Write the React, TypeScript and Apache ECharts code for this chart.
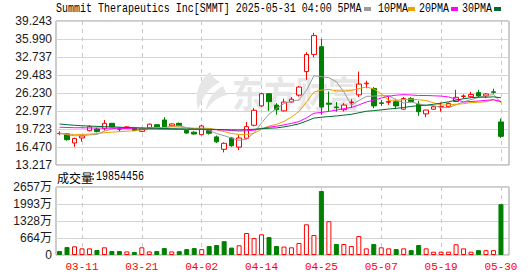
import React, { useEffect, useRef } from "react";
import * as echarts from "echarts";

const dates = [
  "03-06","03-07","03-10","03-11","03-12","03-13","03-14","03-17","03-18","03-19",
  "03-20","03-21","03-24","03-25","03-26","03-27","03-28","03-31","04-01","04-02",
  "04-03","04-04","04-07","04-08","04-09","04-10","04-11","04-14","04-15","04-16",
  "04-17","04-21","04-22","04-23","04-24","04-25","04-28","04-29","04-30","05-01",
  "05-02","05-05","05-06","05-07","05-08","05-09","05-12","05-13","05-14","05-15",
  "05-16","05-19","05-20","05-21","05-22","05-23","05-27","05-28","05-29","05-30",
];
const opens = [
  18.9,18.85,17.2,18.1,19.42,19.72,19.8,20.75,19.75,19.95,
  19.85,19.3,19.95,20.5,21.35,20.3,20.75,19.45,19.15,18.7,
  19.45,18.3,16.06,18.1,16.45,18.05,20.4,23.9,26.1,24.05,
  23.0,24.6,25.85,30.1,33.2,34.6,24.4,23.7,23.2,24.5,
  25.9,27.9,27.05,24.45,24.55,24.65,23.3,25.25,24.2,22.45,
  23.3,23.7,23.75,24.7,25.6,25.55,26.3,25.7,26.45,21.0,
];
const closes = [
  18.95,17.8,18.0,18.46,20.14,19.25,20.75,20.1,19.7,20.1,
  19.45,19.85,20.6,20.1,19.85,20.63,20.33,19.0,18.82,20.27,
  18.95,17.4,17.14,16.7,18.1,20.15,23.1,26.1,24.65,23.2,
  24.6,25.1,27.3,33.2,36.6,23.7,24.2,23.6,24.05,24.6,
  27.85,28.0,23.9,24.35,24.7,23.9,25.25,24.7,22.85,23.15,
  23.75,23.8,24.35,25.45,25.7,25.95,25.7,26.05,26.35,18.4,
];
const lows = [
  18.6,17.6,16.5,17.43,19.3,19.1,19.45,20.05,19.25,19.85,
  19.35,19.2,19.9,20.0,19.8,20.2,20.2,18.85,18.7,18.6,
  18.7,17.2,15.5,16.5,15.9,17.9,20.2,23.7,23.0,22.3,
  22.9,24.5,25.6,28.6,32.7,22.3,22.9,22.85,22.9,23.5,
  25.5,27.1,23.5,23.9,24.1,23.3,23.2,24.5,22.1,21.85,
  23.2,22.85,23.6,24.6,25.2,25.4,25.5,25.3,26.1,18.1,
];
const highs = [
  19.3,19.0,18.15,18.5,20.4,19.95,21.35,20.8,20.1,20.25,
  20.0,20.0,20.7,20.6,21.85,20.75,20.9,19.6,19.3,20.5,
  19.6,18.55,17.3,18.3,18.6,21.0,23.5,26.3,26.2,24.4,
  25.2,25.5,27.5,33.6,37.1,36.0,26.5,24.6,24.4,25.1,
  30.1,28.45,27.3,24.95,25.6,25.2,25.5,25.5,24.8,23.2,
  24.0,24.5,24.5,26.8,26.0,26.4,26.8,26.2,27.0,21.6,
];
const volumes = [
  1550000,3100000,3400000,2600000,2600000,1950000,3000000,1550000,1550000,1400000,
  1200000,3000000,1400000,1550000,2700000,1400000,1500000,2300000,2700000,2300000,
  3500000,3900000,5400000,2900000,3800000,8600000,6600000,8100000,7000000,3500000,
  3300000,3000000,4700000,12000000,7800000,25000000,13200000,4300000,4300000,3500000,
  7400000,2600000,4300000,3000000,2600000,2300000,2600000,1900000,3900000,2600000,
  1300000,1300000,1300000,4200000,2600000,1300000,1900000,1900000,1900000,19854456,
];
const ma5 = [
  18.9,18.7,18.5,18.5,18.67,18.73,19.32,19.74,19.99,19.98,
  20.02,19.84,19.94,20.02,19.97,20.21,20.3,19.98,19.73,19.81,
  19.47,18.89,18.52,18.09,17.66,17.9,19.04,20.83,22.42,23.44,
  24.33,24.73,24.97,26.68,29.36,29.18,29.0,28.26,26.43,24.03,
  24.86,25.62,25.68,25.74,25.76,24.97,24.42,24.58,24.28,23.97,
  23.94,23.65,23.58,24.1,24.61,25.05,25.43,25.77,25.95,24.49,
];
const ma10 = [
  18.95,18.8,18.75,18.75,18.8,18.9,19.05,19.15,19.25,19.33,
  19.38,19.58,19.84,20.0,19.98,20.11,20.07,19.96,19.87,19.89,
  19.84,19.6,19.25,18.91,18.73,18.69,18.96,19.67,20.26,20.55,
  21.11,21.88,22.9,24.55,26.4,26.76,26.87,26.62,26.56,26.7,
  27.02,27.31,26.97,26.09,24.9,24.92,25.02,25.13,25.01,24.87,
  24.46,24.04,24.08,24.19,24.29,24.5,24.54,24.68,25.03,24.55,
];
const ma20 = [
  20.05,20.0,19.95,19.95,19.9,19.9,19.88,19.85,19.85,19.8,
  19.78,19.6,19.72,19.7,19.68,19.66,19.65,19.63,19.62,19.61,
  19.61,19.59,19.54,19.46,19.35,19.4,19.52,19.82,20.06,20.22,
  20.48,20.74,21.07,21.73,22.57,22.72,22.91,23.14,23.41,23.62,
  24.07,24.6,24.94,25.32,25.65,25.84,25.94,25.87,25.78,25.78,
  25.73,25.67,25.52,25.13,24.59,24.7,24.78,24.9,25.01,24.7,
];
const ma30 = [
  20.63,20.5,20.4,20.3,20.25,20.2,20.15,20.1,20.05,20.0,
  19.95,19.9,19.87,19.84,19.81,19.78,19.76,19.74,19.72,19.7,
  19.68,19.64,19.6,19.57,19.56,19.6,19.68,19.78,19.86,19.92,
  20.11,20.35,20.66,21.15,21.7,21.85,21.97,22.08,22.23,22.38,
  22.66,22.93,23.04,23.18,23.34,23.45,23.62,23.81,23.94,24.04,
  24.19,24.4,24.64,24.94,25.19,25.38,25.47,25.47,25.53,25.37,
];
const priceTicks = ["13.217","16.470","19.723","22.977","26.230","29.483","32.737","35.990","39.243"];
const volTicks = ["0","664万","1328万","1993万","2657万"];
const priceMin = 13.217;
const priceMax = 39.243;
const priceStep = 3.25325;
const volMax = 26570000;
const volStep = 6642500;
const titleText = "Summit Therapeutics Inc[SMMT] 2025-05-31 04:00 5PMA";
const maNames = ["5PMA", "10PMA", "20PMA", "30PMA"];
const maColors = ["#9a9a9a", "#f0a000", "#ff00ff", "#006a30"];
const volumeTitle = "成交量";
const volumeValueText = ":19854456";
const watermark = "东方财富";

const RED = "#ff0000";
const GREEN = "#008000";

echarts.graphic.registerShape(
  "emlogo",
  echarts.graphic.extendPath(
    "M18 0 C8 8 2 20 6 38 C10 26 16 16 28 10 C24 8 20 5 18 0 Z M31 14 C21 20 15 28 14 38 C20 30 26 25 35 23 Z",
    {}
  )
);

function monoText(text: string, x: number, y: number, color = "#000") {
  return {
    type: "text",
    x,
    y,
    scaleX: 6 / 7.2,
    silent: true,
    z: 10,
    style: {
      text,
      fill: color,
      fontSize: 12,
      fontFamily: "Liberation Mono",
      verticalAlign: "middle",
    },
  };
}

export default function App() {
  const ref = useRef<HTMLDivElement>(null);
  useEffect(() => {
    document.body.style.margin = "0";
    const chart = echarts.init(ref.current!, null, { renderer: "svg" });
    const labelEvery = (i: number) => i % 8 === 3;
    const volData = volumes.map((v, i) => {
      const up = i > 0 && closes[i] >= closes[i - 1];
      return {
        value: v,
        itemStyle: up
          ? { color: "#fff", borderColor: RED, borderWidth: 1 }
          : { color: GREEN, borderColor: GREEN, borderWidth: 1 },
      };
    });
    const candleData = dates.map((_, i) => [opens[i], closes[i], lows[i], highs[i]]);
    const mas = [ma5, ma10, ma20, ma30];
    const legendX = [364, 408, 451, 494];
    const legendTextX = [0, 378, 419, 462];
    const graphics: any[] = [
      {
        type: "emlogo",
        x: 192,
        y: 72,
        silent: true,
        z: 1,
        style: { fill: "#e6e6e6" },
      },
      {
        type: "text",
        x: 232,
        y: 92,
        silent: true,
        z: 1,
        scaleY: 1.15,
        style: {
          text: watermark,
          fill: "#e6e6e6",
          fontSize: 32,
          fontWeight: "bold",
          fontFamily: "Noto Sans CJK SC",
          verticalAlign: "middle",
        },
      },
      monoText(titleText, 56, 9),
      {
        type: "text",
        x: 57,
        y: 177,
        silent: true,
        style: {
          text: volumeTitle,
          fill: "#000",
          fontSize: 12,
          fontFamily: "Noto Sans CJK SC",
          verticalAlign: "middle",
        },
      },
      monoText(volumeValueText, 90, 177),
    ];
    maNames.forEach((n, k) => {
      graphics.push({
        type: "rect",
        silent: true,
        shape: { x: legendX[k], y: 7, width: 7, height: 4 },
        style: { fill: maColors[k] },
      });
      if (k > 0) graphics.push(monoText(n, legendTextX[k], 9));
    });

    const dashed = { color: "#c8c8c8", type: [4, 4] as any, width: 1 };
    const option: any = {
      animation: false,
      backgroundColor: "#fff",
      graphic: graphics,
      grid: [
        { left: 56, top: 21, width: 453, height: 144, show: true, borderColor: "#999", borderWidth: 1, backgroundColor: "transparent" },
        { left: 55.8, top: 21, width: 448.9, height: 144 },
        { left: 56, top: 187, width: 453, height: 68, show: true, borderColor: "#999", borderWidth: 1, backgroundColor: "transparent" },
        { left: 55.8, top: 187, width: 448.9, height: 68 },
      ],
      xAxis: [
        { gridIndex: 0, type: "value", min: 0, max: 1, show: false },
        {
          gridIndex: 1,
          type: "category",
          data: dates,
          boundaryGap: true,
          axisLine: { show: false },
          axisTick: { show: false, alignWithLabel: true, interval: labelEvery },
          axisLabel: { show: false, interval: labelEvery },
          splitLine: { show: true, interval: labelEvery, alignWithLabel: true, lineStyle: dashed },
        },
        { gridIndex: 2, type: "value", min: 0, max: 1, show: false },
        {
          gridIndex: 3,
          type: "category",
          data: dates,
          boundaryGap: true,
          axisLine: { show: false },
          axisTick: { show: false, alignWithLabel: true, interval: labelEvery },
          axisLabel: {
            show: true,
            interval: labelEvery,
            color: RED,
            fontSize: 11,
            fontFamily: "Liberation Mono",
            margin: 6,
          },
          splitLine: { show: true, interval: labelEvery, alignWithLabel: true, lineStyle: dashed },
        },
      ],
      yAxis: [
        {
          gridIndex: 0,
          type: "value",
          min: priceMin,
          max: priceMax,
          interval: priceStep,
          axisLine: { show: false },
          axisTick: { show: false },
          axisLabel: {
            margin: 4,
            color: "#1a1a1a",
            fontSize: 12,
            fontFamily: "Liberation Sans",
            formatter: (v: number) => priceTicks[Math.round((v - priceMin) / priceStep)] ?? "",
          },
          splitLine: { show: true, lineStyle: { color: "#d4d4d4", width: 1 } },
        },
        { gridIndex: 1, type: "value", min: priceMin, max: priceMax, show: false, splitLine: { show: false } },
        {
          gridIndex: 2,
          type: "value",
          min: 0,
          max: volMax,
          interval: volStep,
          axisLine: { show: false },
          axisTick: { show: false },
          axisLabel: {
            margin: 4,
            color: "#1a1a1a",
            fontSize: 12,
            fontFamily: "Liberation Sans, Noto Sans CJK SC",
            formatter: (v: number) => volTicks[Math.round(v / volStep)] ?? "",
          },
          splitLine: { show: true, lineStyle: { color: "#d4d4d4", width: 1 } },
        },
        { gridIndex: 3, type: "value", min: 0, max: volMax, show: false, splitLine: { show: false } },
      ],
      series: [
        {
          type: "candlestick",
          xAxisIndex: 1,
          yAxisIndex: 1,
          data: candleData,
          barWidth: 5,
          itemStyle: {
            color: "#fff",
            color0: GREEN,
            borderColor: RED,
            borderColor0: GREEN,
            borderWidth: 1,
          },
          z: 3,
        },
        ...mas.map((d, k) => ({
          type: "line",
          name: maNames[k],
          xAxisIndex: 1,
          yAxisIndex: 1,
          data: d,
          showSymbol: false,
          symbol: "none",
          lineStyle: { color: maColors[k], width: 1 },
          z: 4,
        })),
        {
          type: "bar",
          xAxisIndex: 3,
          yAxisIndex: 3,
          data: volData,
          barWidth: 5,
          z: 3,
        },
      ],
    };
    chart.setOption(option);
    return () => chart.dispose();
  }, []);
  return (
    <div
      ref={ref}
      style={{ position: "absolute", left: 0, top: 0, width: 530, height: 276, background: "#fff" }}
    />
  );
}
